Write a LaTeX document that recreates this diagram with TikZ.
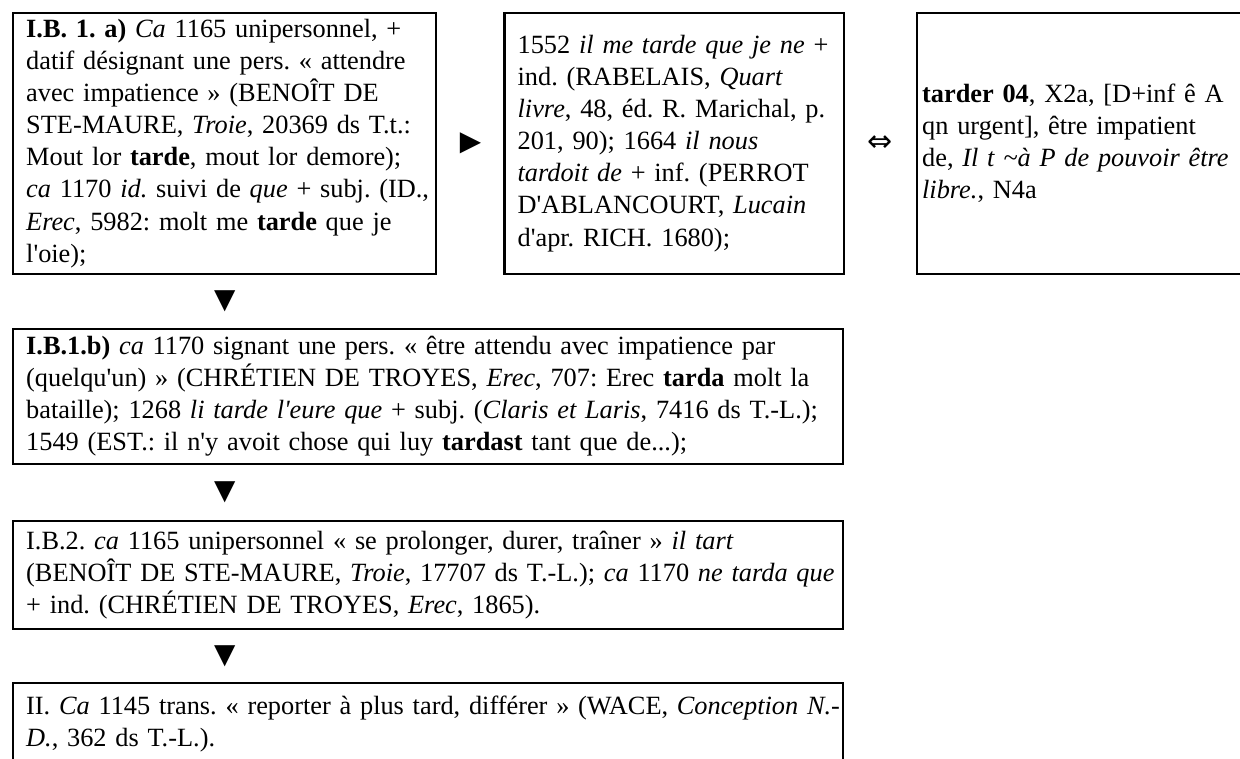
\documentclass[tikz,border=0pt]{standalone}
\usepackage{fontspec}
\setmainfont{Liberation Serif}[Ligatures=TeXOff]
\newfontfamily\symfont{DejaVu Sans}
\usetikzlibrary{positioning}
\frenchspacing
\tikzset{%
    sense/.style={rectangle, draw, line width=1pt, align=left, inner xsep=5.6pt, inner ysep=0pt,
        font=\fontsize{11.4}{13.86}\selectfont,
        execute at begin node={\hyphenpenalty=10000\rightskip=-8pt plus 1fil}},
    narrow/.style={sense, text width=171.9pt, minimum width=183.2pt, minimum height=113pt},
    wide/.style={sense, text width=348.1pt, minimum width=359.4pt},
    glyph/.style={inner sep=0pt, font=\symfont\fontsize{12}{13.8}\selectfont}
}

\begin{document}
\begin{tikzpicture}[x=0.433pt, y=-0.433pt]
    \useasboundingbox (0,0) rectangle (1240,758);

    % top row
    \node[narrow, anchor=north west] (ib1a) at (12,12) {%
        \textbf{I.B. 1. a)} \textit{Ca} 1165 unipersonnel, +\\
        datif désignant une pers. « attendre\\
        avec impatience » (BENOÎT DE\\
        STE-MAURE, \textit{Troie}, 20369 ds T.t.:\\
        Mout lor \textbf{tarde}, mout lor demore);\\
        \textit{ca} 1170 \textit{id.} suivi de \textit{que} + subj. (ID.,\\
        \textit{Erec}, 5982: molt me \textbf{tarde} que je\\
        l'oie);};
    \node[sense, text width=135.5pt, minimum width=146.8pt, minimum height=113pt,
        right=28.6pt of ib1a] (ib1c) {%
        1552 \textit{il me tarde que je ne} +\\
        ind. (RABELAIS, \textit{Quart}\\
        \textit{livre}, 48, éd. R. Marichal, p.\\
        201, 90); 1664 \textit{il nous}\\
        \textit{tardoit de} + inf. (PERROT\\
        D'ABLANCOURT, \textit{Lucain}\\
        d'apr. RICH. 1680);};
    \node[sense, inner xsep=2.2pt, text width=145pt, minimum width=149.4pt, minimum height=113pt,
        right=30.8pt of ib1c] (tarder) {%
        \textbf{tarder 04}, X2a, [D+inf ê A\\
        qn urgent], être impatient\\
        de, \textit{Il t \textasciitilde à P de pouvoir être}\\
        \textit{libre.}, N4a};

    % column below
    \node[wide, minimum height=58.5pt, below=22.8pt of ib1a.south west, anchor=north west] (ib1b) {%
        \textbf{I.B.1.b)} \textit{ca} 1170 signant une pers. « être attendu avec impatience par\\
        (quelqu'un) » (CHRÉTIEN DE TROYES, \textit{Erec}, 707: Erec \textbf{tarda} molt la\\
        bataille); 1268 \textit{li tarde l'eure que} + subj. (\textit{Claris et Laris}, 7416 ds T.-L.);\\
        1549 (EST.: il n'y avoit chose qui luy \textbf{tardast} tant que de...);};
    \node[wide, minimum height=46.8pt, below=23.6pt of ib1b.south west, anchor=north west] (ib2) {%
        I.B.2. \textit{ca} 1165 unipersonnel « se prolonger, durer, traîner » \textit{il tart}\\
        (BENOÎT DE STE-MAURE, \textit{Troie}, 17707 ds T.-L.); \textit{ca} 1170 \textit{ne tarda que}\\
        + ind. (CHRÉTIEN DE TROYES, \textit{Erec}, 1865).};
    \node[wide, minimum height=35pt, below=22.4pt of ib2.south west, anchor=north west] (ii) {%
        II. \textit{Ca} 1145 trans. « reporter à plus tard, différer » (WACE, \textit{Conception N.-}\\
        \textit{D.}, 362 ds T.-L.).};

    % signs between the boxes
    \path (ib1a.east) -- (ib1c.west) node[glyph, midway] {▶};
    \path (ib1c.east) -- (tarder.west) node[glyph, midway, font=\symfont\fontsize{13}{14}\selectfont] {⇔};
    \foreach \u/\v in {ib1a/ib1b, ib1b/ib2, ib2/ii}
        \path (ib1a.south |- \u.south) -- (ib1a.south |- \v.north) node[glyph, midway] {▼};
\end{tikzpicture}
\end{document}
